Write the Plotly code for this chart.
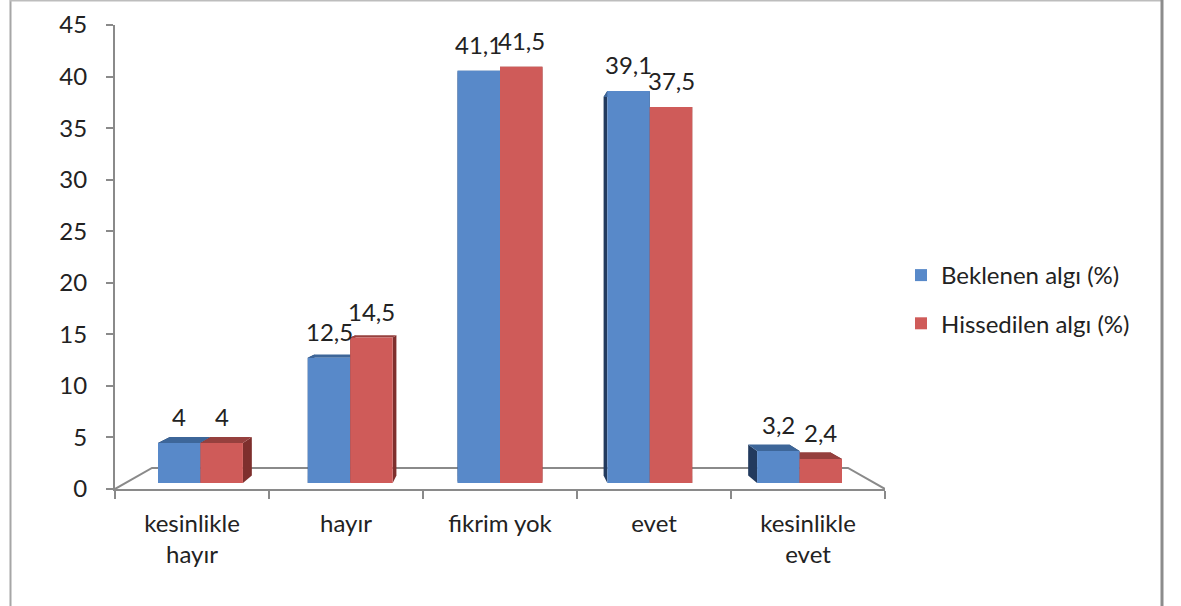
import plotly.graph_objects as go

# ---- data -------------------------------------------------------------
categories = ["kesinlikle hayır", "hayır", "fikrim yok", "evet", "kesinlikle evet"]
tick_labels = ["kesinlikle<br>hayır", "hayır", "fikrim yok", "evet", "kesinlikle<br>evet"]
series_names = ["Beklenen algı (%)", "Hissedilen algı (%)"]
beklenen = [4, 12.5, 41.1, 39.1, 3.2]
hissedilen = [4, 14.5, 41.5, 37.5, 2.4]
y_ticks = [0, 5, 10, 15, 20, 25, 30, 35, 40, 45]

# ---- styling ----------------------------------------------------------
W, H = 1181, 606
FONT = "Lato"
FS = 24
TXT = "#222222"
AXIS = "#8a8a8a"
FRONT = ["#5889c9", "#cf5b59"]
TOP = ["#3d6699", "#96403e"]
SIDE = ["#223a5e", "#7e2f2d"]

# front plane of the value axis, in pixels
PX_L, PX_R = 115, 885
PY_TOP, PY_BOT = 25, 489
Y_MAX = 45
N = len(categories)

# one-point perspective of the 3-D floor
VAN_X, VAN_Y = 500, 270        # vanishing point (px)
K = 37 / 385                   # shrink factor across the whole floor depth
T_FRONT, T_BACK = 0.2857, 0.637  # depth slice occupied by the bars
BARGAP = 0.433


def depth_scale(t):
    return 1 - K * t


def px_x(px):
    return px / W


def px_y(py):
    return 1 - py / H


y_unit = (PY_BOT - PY_TOP) / Y_MAX
V_VAL = (PY_BOT - VAN_Y) / y_unit
V_CAT = (VAN_X - PX_L) / ((PX_R - PX_L) / N) - 0.5

# bar plane (front faces of the bars)
s0 = depth_scale(T_FRONT)
bx_l = VAN_X + (PX_L - VAN_X) * s0
bx_r = VAN_X + (PX_R - VAN_X) * s0
by_b = VAN_Y + (PY_BOT - VAN_Y) * s0
by_t = VAN_Y + (PY_TOP - VAN_Y) * s0
r_back = depth_scale(T_BACK) / s0
r_floor = depth_scale(1.0)


def back(x, y, r):
    return V_CAT + (x - V_CAT) * r, V_VAL + (y - V_VAL) * r


def poly(pts):
    return "M" + "L".join(f"{x:.5f},{y:.5f}" for x, y in pts) + "Z"


fig = go.Figure()
xs = list(range(N))
for k, (name, vals) in enumerate(zip(series_names, [beklenen, hissedilen])):
    fig.add_trace(go.Bar(
        x=xs, y=vals, name=name, xaxis="x2", yaxis="y2",
        marker=dict(color=FRONT[k], line=dict(width=0)),
        hovertext=categories, legendgroup=name,
    ))

# 3-D top and side faces of each bar, drawn beneath the front faces
gw = 1 - BARGAP
shapes = []
for k, vals in enumerate([beklenen, hissedilen]):
    for i, v in enumerate(vals):
        xl = i - gw / 2 + k * gw / 2
        xr = xl + gw / 2
        top = [(xl, v), (xr, v), back(xr, v, r_back), back(xl, v, r_back)]
        left = [(xl, 0), (xl, v), back(xl, v, r_back), back(xl, 0, r_back)]
        right = [(xr, 0), (xr, v), back(xr, v, r_back), back(xr, 0, r_back)]
        for pts, col in [(left, SIDE[k]), (right, SIDE[k]), (top, TOP[k])]:
            shapes.append(dict(type="path", path=poly(pts), xref="x2", yref="y2",
                               fillcolor=col, line=dict(width=0), layer="below"))

# floor outline
fl = back(-0.5, 0, r_floor)
fr = back(N - 0.5, 0, r_floor)
shapes.append(dict(type="path", xref="x", yref="y", layer="below",
                   path=f"M-0.5,0L{fl[0]:.5f},{fl[1]:.5f}L{fr[0]:.5f},{fr[1]:.5f}L{N-0.5},0",
                   line=dict(color=AXIS, width=2)))

# chart frame
shapes += [
    dict(type="line", xref="paper", yref="paper", x0=px_x(10.5), x1=px_x(10.5), y0=0, y1=1,
         line=dict(color="#a6a6a6", width=2)),
    dict(type="line", xref="paper", yref="paper", x0=px_x(10), x1=px_x(1163), y0=px_y(0.5), y1=px_y(0.5),
         line=dict(color="#bdbdbd", width=2)),
    dict(type="line", xref="paper", yref="paper", x0=px_x(1162), x1=px_x(1162), y0=0, y1=1,
         line=dict(color="#8c8c8c", width=3)),
]

# value labels above each bar
annotations = []
for k, vals in enumerate([beklenen, hissedilen]):
    for i, v in enumerate(vals):
        xc = i - gw / 4 + k * gw / 2
        annotations.append(dict(
            x=xc, y=v, xref="x2", yref="y2", text=f"{v:g}".replace(".", ","),
            showarrow=False, yanchor="middle", yshift=26,
            font=dict(family=FONT, size=FS, color=TXT)))

fig.update_layout(
    width=W, height=H, autosize=False,
    margin=dict(l=0, r=0, t=0, b=0, pad=0),
    paper_bgcolor="white", plot_bgcolor="rgba(0,0,0,0)",
    barmode="group", bargap=BARGAP, bargroupgap=0,
    font=dict(family=FONT, size=FS, color=TXT),
    shapes=shapes, annotations=annotations,
    xaxis=dict(
        domain=[px_x(PX_L), px_x(PX_R)], range=[-0.5, N - 0.5], anchor="y",
        tickmode="array", tickvals=xs, ticktext=tick_labels, ticks="",
        minor=dict(tick0=-0.5, dtick=1, ticks="outside", ticklen=8, tickcolor=AXIS, tickwidth=2),
        showline=True, linecolor=AXIS, linewidth=2, showgrid=False, zeroline=False,
        ticklabelstandoff=12, fixedrange=True, automargin=False,
    ),
    yaxis=dict(
        domain=[px_y(PY_BOT), px_y(PY_TOP)], range=[0, Y_MAX], anchor="x",
        tickmode="array", tickvals=y_ticks, ticks="outside", ticklen=7,
        tickcolor=AXIS, tickwidth=2, showline=True, linecolor=AXIS, linewidth=2,
        showgrid=False, zeroline=False, ticklabelstandoff=14, fixedrange=True,
        automargin=False,
    ),
    xaxis2=dict(domain=[px_x(bx_l), px_x(bx_r)], range=[-0.5, N - 0.5], anchor="y2",
                visible=False, fixedrange=True, automargin=False),
    yaxis2=dict(domain=[px_y(by_b), px_y(by_t)], range=[0, Y_MAX], anchor="x2",
                visible=False, fixedrange=True, automargin=False),
    legend=dict(x=px_x(901), xanchor="left", y=px_y(253), yanchor="top",
                font=dict(family=FONT, size=FS, color=TXT), tracegroupgap=14,
                bgcolor="rgba(0,0,0,0)"),
    showlegend=True,
)

fig.write_html("out.html")
